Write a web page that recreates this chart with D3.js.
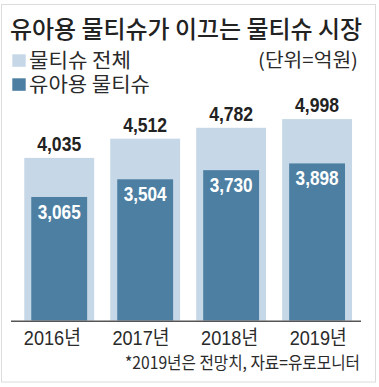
<!DOCTYPE html>
<html>
<head>
<meta charset="utf-8">
<script src="https://cdn.jsdelivr.net/npm/d3@7"></script>
<style>
html,body{margin:0;padding:0;background:#fff;}
svg{display:block;}
</style>
</head>
<body>
<script>
const years = ["2016년", "2017년", "2018년", "2019년"];
const totalValues = [4035, 4512, 4782, 4998];
const babyValues = [3065, 3504, 3730, 3898];
const seriesNames = ["물티슈 전체", "유아용 물티슈"];
const titleText = "유아용 물티슈가 이끄는 물티슈 시장";
const unitText = "(단위=억원)";
const noteText = "*2019년은 전망치, 자료=유로모니터";

const W = 379, H = 387;
const lightColor = "#c6d8e7", darkColor = "#4d7fa3";
const cjk = "'Noto Sans CJK KR','Noto Sans KR',sans-serif";
const num = "'Liberation Sans',Arial,sans-serif";

const svg = d3.select("body").append("svg").attr("width", W).attr("height", H);

svg.append("rect").attr("x", 1.5).attr("y", 4.5).attr("width", 374).attr("height", 377.5)
  .attr("fill", "#fff").attr("stroke", "#dcdcdc").attr("stroke-width", 1);

const x = d3.scaleBand().domain(years).range([8.2, 368.1]).paddingInner(0.187).paddingOuter(0.187);
const xl = d3.scaleBand().domain(years).range([8, 362.5]).padding(0);
const y = d3.scaleLinear().domain([0, 5000]).range([320.5, 119]);
const inset = 7;

// title
svg.append("text").attr("x", 10).attr("y", 37.8)
  .attr("font-family", cjk).attr("font-weight", 500).attr("font-size", 24)
  .attr("fill", "#222").attr("textLength", 352).attr("lengthAdjust", "spacingAndGlyphs")
  .text(titleText);

// legend
const legend = svg.append("g");
[lightColor, darkColor].forEach((c, i) => {
  legend.append("rect").attr("x", 12.3).attr("y", 54.3 + i * 24).attr("width", 13.4).attr("height", 12.5).attr("fill", c);
  legend.append("text").attr("x", 29).attr("y", 67.8 + i * 24.3)
    .attr("font-family", cjk).attr("font-size", 20).attr("fill", "#2a2a2a")
    .attr("textLength", i === 0 ? 102 : 121).attr("lengthAdjust", "spacingAndGlyphs")
    .text(seriesNames[i]);
});

svg.append("text").attr("x", 358).attr("y", 67).attr("text-anchor", "end")
  .attr("font-family", cjk).attr("font-size", 19).attr("fill", "#2a2a2a")
  .attr("textLength", 100).attr("lengthAdjust", "spacingAndGlyphs")
  .text(unitText);

// bars
const g = svg.append("g");
g.selectAll("rect.total").data(years).enter().append("rect")
  .attr("x", d => x(d)).attr("width", x.bandwidth())
  .attr("y", (d, i) => y(totalValues[i])).attr("height", (d, i) => y(0) - y(totalValues[i]))
  .attr("fill", lightColor);
g.selectAll("rect.baby").data(years).enter().append("rect")
  .attr("x", d => x(d) + inset).attr("width", x.bandwidth() - 2 * inset)
  .attr("y", (d, i) => y(babyValues[i])).attr("height", (d, i) => y(0) - y(babyValues[i]))
  .attr("fill", darkColor);

const fmt = d3.format(",");
g.selectAll("text.total").data(years).enter().append("text")
  .attr("x", d => x(d) + x.bandwidth() / 2).attr("y", (d, i) => y(totalValues[i]) - 6.8)
  .attr("text-anchor", "middle").attr("font-family", num).attr("font-weight", 700).attr("font-size", 20)
  .attr("fill", "#222").attr("textLength", 44).attr("lengthAdjust", "spacingAndGlyphs")
  .text((d, i) => fmt(totalValues[i]));
g.selectAll("text.baby").data(years).enter().append("text")
  .attr("x", d => x(d) + x.bandwidth() / 2).attr("y", (d, i) => y(babyValues[i]) + 22)
  .attr("text-anchor", "middle").attr("font-family", num).attr("font-weight", 700).attr("font-size", 20)
  .attr("fill", "#fff").attr("textLength", 43).attr("lengthAdjust", "spacingAndGlyphs")
  .text((d, i) => fmt(babyValues[i]));

// axis
const axis = svg.append("g").attr("transform", `translate(0,${y(0)})`)
  .call(d3.axisBottom(xl).tickSize(0).tickSizeOuter(0).tickPadding(0));
axis.select(".domain").remove();
axis.append("line").attr("x1", 11).attr("x2", 361).attr("y1", 0.8).attr("y2", 0.8)
  .attr("stroke", "#555").attr("stroke-width", 1.4);
axis.selectAll(".tick text").attr("y", 24.5).attr("dy", 0)
  .attr("font-family", "'Liberation Sans',Arial,'Noto Sans CJK KR',sans-serif").attr("font-size", 20)
  .attr("fill", "#2a2a2a").attr("textLength", 57).attr("lengthAdjust", "spacingAndGlyphs");

svg.append("text").attr("x", 360).attr("y", 369).attr("text-anchor", "end")
  .attr("font-family", cjk).attr("font-size", 17).attr("fill", "#2a2a2a")
  .attr("textLength", 235).attr("lengthAdjust", "spacingAndGlyphs")
  .text(noteText);
</script>
</body>
</html>
